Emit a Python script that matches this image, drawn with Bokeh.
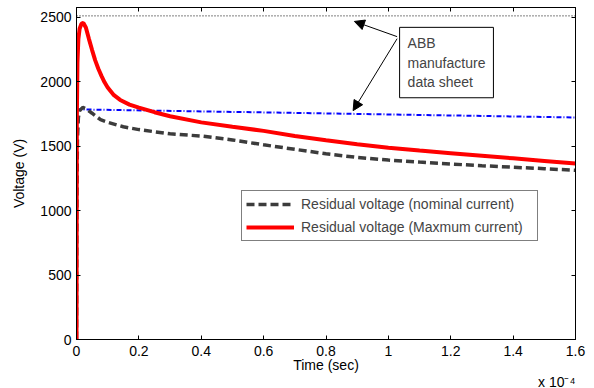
from bokeh.plotting import figure
from bokeh.models import (Range1d, LinearAxis, FixedTicker, Label, Arrow, NormalHead,
                          Legend, LegendItem, Title)
from bokeh.embed import file_html
from bokeh.resources import INLINE

# ---- data (time in units of 1e-4 s) ----
t_nom = [0, 0.001, 0.003, 0.006, 0.01, 0.02, 0.03, 0.05, 0.077, 0.1, 0.15, 0.2, 0.3, 0.4,
         0.5, 0.6, 0.7, 0.8, 0.9, 1.0, 1.1, 1.2, 1.3, 1.4, 1.5, 1.6]
v_nom = [0, 1000, 1550, 1720, 1775, 1800, 1790, 1755, 1705, 1685, 1650, 1628, 1595, 1578,
         1548, 1510, 1475, 1440, 1412, 1392, 1376, 1361, 1348, 1336, 1325, 1312]

t_max = [0, 0.001, 0.003, 0.006, 0.01, 0.016, 0.022, 0.03, 0.04, 0.05, 0.06, 0.07, 0.08,
         0.09, 0.1, 0.12, 0.14, 0.17, 0.2, 0.25, 0.3, 0.4, 0.5, 0.6, 0.7, 0.8, 0.9, 1.0,
         1.1, 1.2, 1.3, 1.4, 1.5, 1.6]
v_max = [0, 1700, 2150, 2330, 2410, 2450, 2455, 2420, 2330, 2245, 2165, 2100, 2045,
         1995, 1955, 1895, 1858, 1822, 1798, 1763, 1732, 1684, 1650, 1618, 1578, 1545,
         1515, 1487, 1465, 1445, 1425, 1405, 1385, 1365]

t_abb = [0, 1.6]
v_abb_blue = [1785, 1722]
v_abb_top = [2510, 2510]

x_ticks = [0, 0.2, 0.4, 0.6, 0.8, 1.0, 1.2, 1.4, 1.6]
y_ticks = [0, 500, 1000, 1500, 2000, 2500]
x_multiplier = "x 10\u207b\u2074"

FONT = "Liberation Sans"

p = figure(width=594, height=388, output_backend="svg", toolbar_location=None,
           x_range=Range1d(0, 1.6), y_range=Range1d(0, 2575),
           min_border_left=76, min_border_right=19, min_border_top=7, min_border_bottom=49)
p.xgrid.visible = False
p.ygrid.visible = False
p.outline_line_color = "black"
p.background_fill_color = "white"
p.border_fill_color = "white"

for ax in (p.xaxis[0], p.yaxis[0]):
    ax.major_tick_in = 4
    ax.major_tick_out = 0
    ax.minor_tick_line_color = None
    ax.axis_line_color = "black"
    ax.major_tick_line_color = "black"
    ax.major_label_text_font = FONT
    ax.major_label_text_font_size = "14px"
    ax.major_label_text_color = "black"
    ax.axis_label_text_font = FONT
    ax.axis_label_text_font_size = "14px"
    ax.axis_label_text_font_style = "normal"
    ax.axis_label_text_color = "black"

p.xaxis[0].ticker = FixedTicker(ticks=x_ticks)
p.xaxis[0].major_label_overrides = {0: "0", 1: "1"}
p.xaxis[0].axis_label = "Time (sec)"
p.xaxis[0].major_label_standoff = 6
p.xaxis[0].axis_label_standoff = -2
p.yaxis[0].ticker = FixedTicker(ticks=y_ticks)
p.yaxis[0].axis_label = "Voltage (V)"
p.yaxis[0].major_label_standoff = 5
p.yaxis[0].axis_label_standoff = 10

top = LinearAxis(ticker=FixedTicker(ticks=x_ticks), major_tick_in=4, major_tick_out=0,
                 minor_tick_line_color=None, major_label_text_color=None,
                 major_label_text_font_size="1px", major_label_standoff=0)
right = LinearAxis(ticker=FixedTicker(ticks=y_ticks), major_tick_in=4, major_tick_out=0,
                   minor_tick_line_color=None, major_label_text_color=None,
                   major_label_text_font_size="1px", major_label_standoff=0)
p.add_layout(top, "above")
p.add_layout(right, "right")

# multiplier for the time axis, placed under the axis at the right end
p.add_layout(Title(text=x_multiplier, align="right", standoff=-6, offset=0,
                   vertical_align="middle",
                   text_font=FONT, text_font_size="14px", text_font_style="normal",
                   text_color="black"), "below")

# ---- series ----
p.line(t_abb, v_abb_top, line_color="black", line_width=1, line_dash="1 2")
p.line(t_abb, v_abb_blue, line_color="blue", line_width=2, line_dash="5 2 1 2")
r_nom = p.line(t_nom, v_nom, line_color="#3c3c3c", line_width=3.5, line_dash="8 4")
r_max = p.line(t_max, v_max, line_color="red", line_width=4)

legend = Legend(items=[LegendItem(label="Residual voltage (nominal current)", renderers=[r_nom]),
                       LegendItem(label="Residual voltage (Maxmum current)", renderers=[r_max])],
                location=(165, 98), padding=4, spacing=5, glyph_width=48, glyph_height=18,
                label_height=18, label_width=232, label_standoff=7, margin=0,
                label_text_font=FONT, label_text_font_size="14px",
                border_line_color="black", border_line_width=1,
                background_fill_alpha=1)
p.add_layout(legend)

# ---- annotation ----
p.add_layout(Label(x=1.036, y=2421, text="ABB\nmanufacture\ndata sheet", anchor="top_left",
                   text_font=FONT, text_font_size="14px", text_line_height=1.2,
                   padding=8, border_line_color="black", border_line_width=1,
                   background_fill_color="white"))
p.add_layout(Arrow(end=NormalHead(size=10, fill_color="black", line_color="black"),
                   x_start=1.028, y_start=2349, x_end=0.891, y_end=2467,
                   line_color="black", line_width=1))
p.add_layout(Arrow(end=NormalHead(size=10, fill_color="black", line_color="black"),
                   x_start=1.028, y_start=2333, x_end=0.887, y_end=1775,
                   line_color="black", line_width=1))

open("out.html", "w").write(file_html(p, INLINE))
